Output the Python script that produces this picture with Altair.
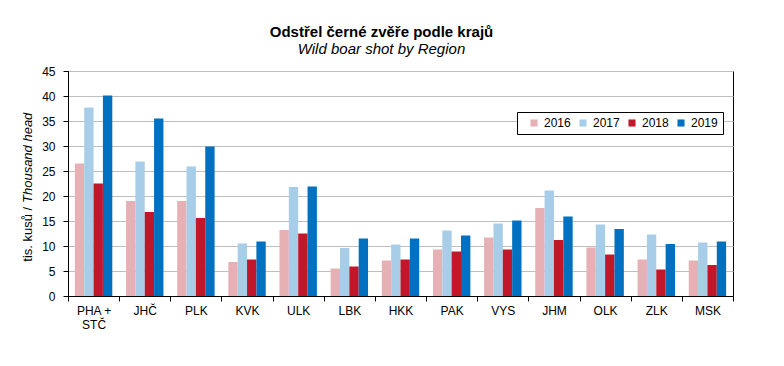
import altair as alt
import pandas as pd

regions = ["PHA + STČ", "JHČ", "PLK", "KVK", "ULK", "LBK", "HKK",
           "PAK", "VYS", "JHM", "OLK", "ZLK", "MSK"]
years = ["2016", "2017", "2018", "2019"]
v2016 = [26.5, 19.0, 19.0, 6.8, 13.2, 5.5, 7.1, 9.3, 11.7, 17.6, 9.7, 7.3, 7.1]
v2017 = [37.7, 26.9, 25.9, 10.5, 21.8, 9.6, 10.3, 13.1, 14.5, 21.1, 14.3, 12.3, 10.7]
v2018 = [22.5, 16.8, 15.6, 7.3, 12.5, 5.9, 7.3, 8.9, 9.3, 11.2, 8.3, 5.3, 6.2]
v2019 = [40.1, 35.5, 29.9, 10.9, 21.9, 11.5, 11.5, 12.1, 15.1, 15.9, 13.4, 10.4, 10.9]
colors = ["#e6b0b5", "#a8cde8", "#c0182a", "#0070c0"]
y_ticks = [0, 5, 10, 15, 20, 25, 30, 35, 40, 45]

rows = []
for yr, vals in zip(years, [v2016, v2017, v2018, v2019]):
    for r, v in zip(regions, vals):
        rows.append({"region": r, "year": yr, "value": v})
df = pd.DataFrame(rows)

FONT = "Liberation Sans"

bars = alt.Chart(df).mark_bar().encode(
    x=alt.X("region:N", sort=regions,
            scale=alt.Scale(paddingInner=0, paddingOuter=0),
            axis=alt.Axis(title=None, tickBand="extent", labelAngle=0,
                          labelFontSize=12, labelColor="black", labelFont=FONT,
                          tickColor="black", domainColor="black", tickSize=5,
                          labelPadding=4, labelLineHeight=14,
                          labelExpr="datum.label == 'PHA + STČ' ? ['PHA +', 'STČ'] : datum.label")),
    xOffset=alt.XOffset("year:N", sort=years,
                        scale=alt.Scale(paddingInner=0, paddingOuter=0.735)),
    y=alt.Y("value:Q", scale=alt.Scale(domain=[0, 45], nice=False),
            axis=alt.Axis(title=None, values=y_ticks, labelFontSize=12,
                          labelColor="black", labelFont=FONT, tickColor="black",
                          domainColor="black", tickSize=5, labelPadding=8,
                          gridColor="#bfbfbf")),
    color=alt.Color("year:N", scale=alt.Scale(domain=years, range=colors),
                    legend=alt.Legend(title=None, orient="none", legendX=449, legendY=41,
                                      direction="horizontal", strokeColor="black",
                                      fillColor="white", padding=5, symbolType="square",
                                      symbolSize=50, symbolStrokeWidth=0,
                                      labelFontSize=12, labelFont=FONT, labelColor="black",
                                      columnPadding=0, labelOffset=4, symbolOffset=6)),
)

t1 = alt.Chart(alt.Data(values=[{"t": "tis. kusů /"}])).mark_text(
    angle=270, align="left", baseline="middle", fontSize=13, font=FONT, color="black"
).encode(text="t:N", x=alt.value(-40), y=alt.value(190.7))

t2 = alt.Chart(alt.Data(values=[{"t": "Thousand head"}])).mark_text(
    angle=270, align="left", baseline="middle", fontSize=13, font=FONT,
    fontStyle="italic", color="black"
).encode(text="t:N", x=alt.value(-40), y=alt.value(132))

chart = alt.layer(bars, t1, t2).properties(
    width=665, height=225,
    padding={"left": 60, "top": 63, "right": 40, "bottom": 55},
    autosize=alt.AutoSizeParams(type="none"),
    title=alt.TitleParams(text="Odstřel černé zvěře podle krajů",
                          subtitle="Wild boar shot by Region",
                          font=FONT, subtitleFont=FONT, fontSize=15, subtitleFontSize=15,
                          fontWeight="bold", subtitleFontStyle="italic",
                          color="black", subtitleColor="black", anchor="middle",
                          dx=-19, offset=8, subtitlePadding=2),
).configure_view(stroke="black", strokeWidth=1)

chart.save("out.html", embed_options={"renderer": "svg", "actions": False})
